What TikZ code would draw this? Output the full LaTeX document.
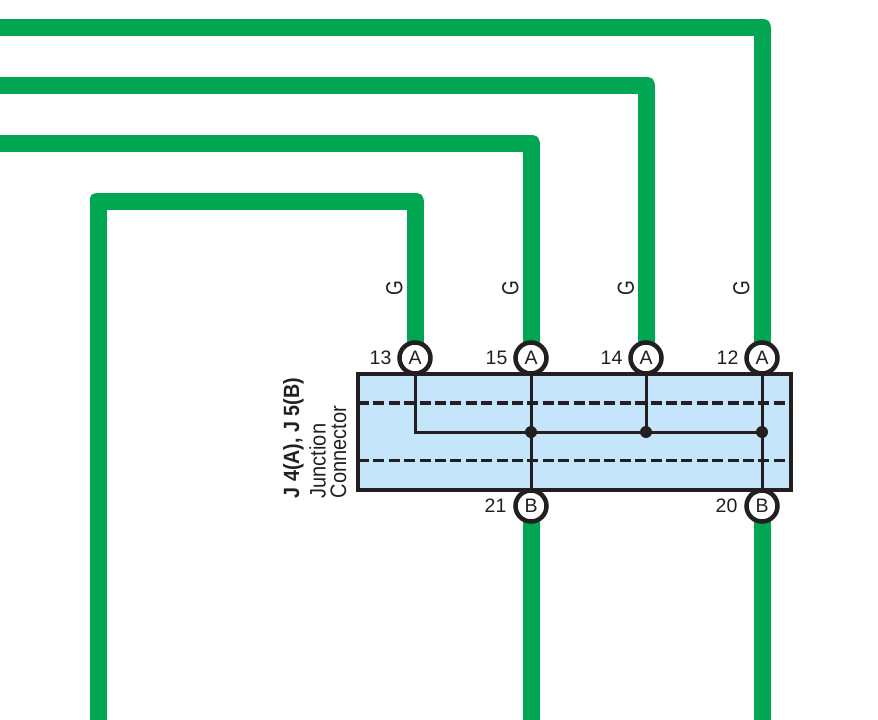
\documentclass[tikz,border=0pt]{standalone}
\usepackage{fontspec}
\setmainfont{Liberation Sans}
\definecolor{wiregreen}{HTML}{00A651}
\definecolor{boxblue}{HTML}{C5E6FA}
\definecolor{ink}{HTML}{231F20}
\newcommand{\tallg}[1]{\scalebox{1}[1.22]{#1}}
\newcommand{\tallside}[1]{\scalebox{1}[1.12]{#1}}
\begin{document}
\begin{tikzpicture}[x=1pt,y=-1pt,
  wire/.style={draw=wiregreen,line width=17pt,line join=round},
  wirecorner/.style={fill=wiregreen,minimum size=16.2pt,inner sep=0pt,outer sep=0pt,rounded corners=5pt},
  pin/.style={circle,draw=ink,fill=white,line width=4.5pt,minimum size=31pt,inner sep=0pt,text=ink,font=\fontsize{19.5}{22}\selectfont},
  pinno/.style={text=ink,inner sep=0pt,font=\fontsize{19.5}{22}\selectfont},
  colour/.style={text=ink,inner sep=0pt,rotate=90,font=\fontsize{19}{22}\selectfont},
  side/.style={text=ink,inner sep=0pt,rotate=90,anchor=west,font=\fontsize{20}{22}\selectfont},
  sidebold/.style={side,font=\fontsize{19.7}{22}\selectfont\bfseries},
  inner/.style={draw=ink,line width=3pt},
  dot/.style={circle,fill=ink,inner sep=0pt,minimum size=12pt},
  tier/.style={draw=ink,line width=3.5pt,dash pattern=on 11pt off 4.4pt}]
\useasboundingbox (0,0) rectangle (878,720);
\coordinate (a13p) at (415,358);
\coordinate (a15p) at (531,358);
\coordinate (a14p) at (646,358);
\coordinate (a12p) at (762,358);
\coordinate (b21p) at (531,506);
\coordinate (b20p) at (762,506);
% wires
\coordinate (c13a) at (415,201.5);
\coordinate (c13b) at (98,201.5);
\coordinate (e13) at (98,720);
\coordinate (c15) at (531,143.5);
\coordinate (e15) at (0,143.5);
\coordinate (c14) at (646,85.5);
\coordinate (e14) at (0,85.5);
\coordinate (c12) at (762,27.5);
\coordinate (e12) at (0,27.5);
\coordinate (e21) at (531,720);
\coordinate (e20) at (762,720);
\draw[wire] (a13p) -- (c13a) -- (c13b) -- (e13);
\draw[wire] (a15p) -- (c15) -- (e15);
\draw[wire] (a14p) -- (c14) -- (e14);
\draw[wire] (a12p) -- (c12) -- (e12);
\draw[wire] (b21p) -- (e21);
\draw[wire] (b20p) -- (e20);
\node[wirecorner] (r1) at (c13a) {};
\node[wirecorner] (r2) at (c13b) {};
\node[wirecorner] (r3) at (c15) {};
\node[wirecorner] (r4) at (c14) {};
\node[wirecorner] (r5) at (c12) {};
% connector box
\node[draw=ink,fill=boxblue,line width=4pt,line join=miter,outer sep=0pt,minimum width=432.7pt,minimum height=115.7pt,inner sep=0pt,anchor=north west] (box) at (358,374.3) {};
\coordinate (t1l) at (box.west |- 0,403);
\coordinate (t1r) at (box.east |- 0,403);
\coordinate (t2l) at (box.west |- 0,460.7);
\coordinate (t2r) at (box.east |- 0,460.7);
\draw[tier] (t1l) -- (t1r);
\draw[tier] (t2l) -- (t2r);
% pins
\node[pin] (a13) at (a13p) {A};
\node[pin] (a15) at (a15p) {A};
\node[pin] (a14) at (a14p) {A};
\node[pin] (a12) at (a12p) {A};
\node[pin] (b21) at (b21p) {B};
\node[pin] (b20) at (b20p) {B};
% internal circuit
\node[dot] (j15) at (531,432) {};
\node[dot] (j14) at (646,432) {};
\node[dot] (j12) at (762,432) {};
\coordinate (k13) at (415,432);
\draw[inner] (a13) -- (k13) -- (j12.center);
\draw[inner] (a15) -- (b21);
\draw[inner] (a14) -- (j14.center);
\draw[inner] (a12) -- (b20);
% labels
\node[pinno] (n13) at (380.5,358) {13};
\node[pinno] (n15) at (496.5,358) {15};
\node[pinno] (n14) at (611.5,358) {14};
\node[pinno] (n12) at (727.5,358) {12};
\node[pinno] (n21) at (495.5,506) {21};
\node[pinno] (n20) at (726.5,506) {20};
\node[colour] (g13) at (394.5,288) {\tallg{G}};
\node[colour] (g15) at (510.5,288) {\tallg{G}};
\node[colour] (g14) at (626,288) {\tallg{G}};
\node[colour] (g12) at (741.5,288) {\tallg{G}};
\node[sidebold] (l1) at (293.5,498.5) {\tallside{J 4(A), J 5(B)}};
\node[side] (l2) at (317.5,498.5) {\tallside{Junction}};
\node[side] (l3) at (338.5,498.5) {\tallside{Connector}};
\end{tikzpicture}
\end{document}
